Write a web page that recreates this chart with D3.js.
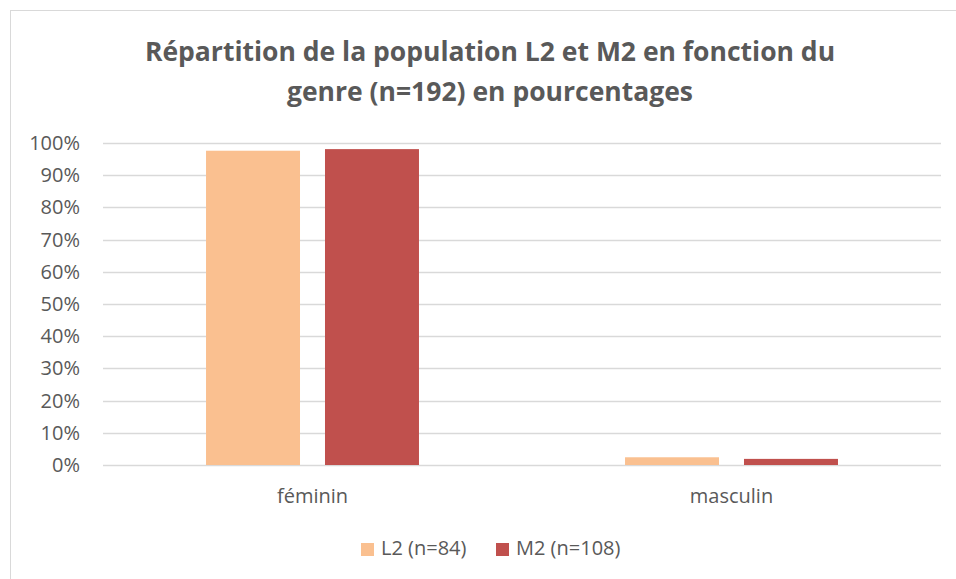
<!DOCTYPE html>
<html>
<head>
<meta charset="utf-8">
<script src="https://cdn.jsdelivr.net/npm/d3@7"></script>
<style>
  body { margin: 0; background: #fff; }
  svg { font-family: "Open Sans", sans-serif; }
</style>
</head>
<body>
<svg id="chart" width="956" height="579"></svg>
<script>
// chart data
const categories = ['féminin', 'masculin'];
const series = ['L2 (n=84)', 'M2 (n=108)'];
const valuesL2 = [97.6, 2.4];
const valuesM2 = [98.1, 1.9];
const yTicks = [0, 10, 20, 30, 40, 50, 60, 70, 80, 90, 100];
const titleLines = ['Répartition de la population L2 et M2 en fonction du',
  'genre (n=192) en pourcentages'];

const colors = ['#FAC090', '#C0504D'];
const textColor = '#595959';

const svg = d3.select('#chart');

// frame
svg.append('rect')
  .attr('x', 10.5).attr('y', 10.5)
  .attr('width', 960).attr('height', 600)
  .attr('fill', 'none').attr('stroke', '#d9d9d9');

const plot = { left: 103, right: 941, top: 143, bottom: 465 };

const x0 = d3.scaleBand().domain(categories).range([plot.left, plot.right]);
const x1 = d3.scaleBand().domain(series).range([0, x0.bandwidth()])
  .paddingInner(0.21).paddingOuter(0.866);
const y = d3.scaleLinear().domain([0, 100]).range([plot.bottom, plot.top]);

// gridlines
svg.append('g').selectAll('line')
  .data(yTicks)
  .enter().append('line')
  .attr('x1', plot.left).attr('x2', plot.right)
  .attr('y1', d => Math.round(y(d)) + 0.5)
  .attr('y2', d => Math.round(y(d)) + 0.5)
  .attr('stroke', '#d9d9d9').attr('stroke-width', 1.3);

// y labels
svg.append('g').selectAll('text')
  .data(yTicks)
  .enter().append('text')
  .attr('x', 80)
  .attr('y', d => y(d) + 7)
  .attr('text-anchor', 'end')
  .attr('font-size', 20)
  .attr('fill', textColor)
  .text(d => d + '%');

// bars
const rows = categories.map((c, i) => ({ cat: c, vals: [valuesL2[i], valuesM2[i]] }));
const groups = svg.append('g').selectAll('g')
  .data(rows)
  .enter().append('g')
  .attr('transform', d => `translate(${x0(d.cat)},0)`);

groups.selectAll('rect')
  .data(d => d.vals.map((v, j) => ({ s: series[j], v: v, j: j })))
  .enter().append('rect')
  .attr('x', d => x1(d.s))
  .attr('width', x1.bandwidth())
  .attr('y', d => y(d.v))
  .attr('height', d => y(0) - y(d.v))
  .attr('fill', d => colors[d.j]);

// category labels
svg.append('g').selectAll('text')
  .data(categories)
  .enter().append('text')
  .attr('x', d => x0(d) + x0.bandwidth() / 2)
  .attr('y', 503)
  .attr('text-anchor', 'middle')
  .attr('font-size', 20)
  .attr('fill', textColor)
  .text(d => d);

// title
svg.append('g').selectAll('text')
  .data(titleLines)
  .enter().append('text')
  .attr('x', 490)
  .attr('y', (d, i) => 61 + i * 40)
  .attr('text-anchor', 'middle')
  .attr('font-size', 26.5)
  .attr('font-weight', 'bold')
  .attr('fill', textColor)
  .text(d => d);

// legend
const legendX = [361, 496];
const legend = svg.append('g').selectAll('g')
  .data(series)
  .enter().append('g')
  .attr('transform', (d, i) => `translate(${legendX[i]},543)`);
legend.append('rect')
  .attr('width', 13).attr('height', 13)
  .attr('fill', (d, i) => colors[i]);
legend.append('text')
  .attr('x', 20).attr('y', 12)
  .attr('font-size', 20)
  .attr('fill', textColor)
  .text(d => d);
</script>
</body>
</html>
